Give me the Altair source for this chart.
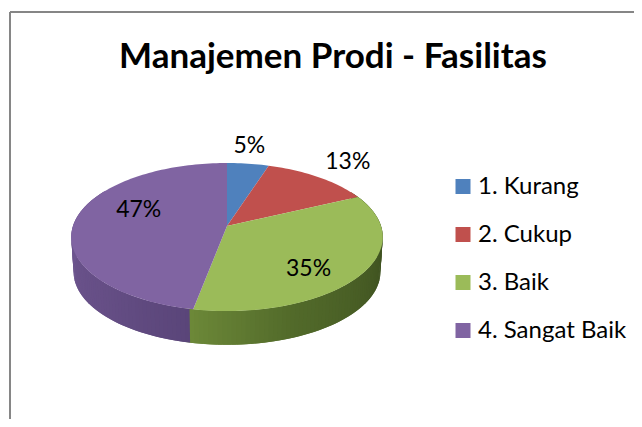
import math
import altair as alt

TITLE = "Manajemen Prodi - Fasilitas"
CATEGORIES = ["1. Kurang", "2. Cukup", "3. Baik", "4. Sangat Baik"]
VALUES = [5, 13, 35, 47]
LABELS = ["5%", "13%", "35%", "47%"]
COLORS = ["#4f81bd", "#c0504d", "#9bbb59", "#8064a2"]

W, H = 626, 411
FONT = "Lato"
# pie layout (plot pixels)
AX, AY = 219, 218
SX, SY, K = 154.0, 72.4, 0.149
DEPTH, SHRINK = 35, 0.985
LABEL_TWEAK = [-1, 0.4, 9, 17.4]
LABEL_R = [1.36, 1.38, 0.73, 0.63]


def project(deg, r=1.0, base=False):
    a = math.radians(deg)
    u, v = r * math.sin(a), r * math.cos(a)
    d = 1 + K * v
    s = SHRINK if base else 1.0
    return [AX + s * SX * u / d, AY - s * SY * v / d + (DEPTH if base else 0)]


def feature(ring, **props):
    return {"type": "Feature", "properties": props,
            "geometry": {"type": "Polygon", "coordinates": [ring + [ring[0]]]}}


def mix(stops, t):
    for (t0, c0), (t1, c1) in zip(stops, stops[1:]):
        if t <= t1:
            f = (t - t0) / (t1 - t0)
            rgb = [int(c0[i:i + 2], 16) * (1 - f) + int(c1[i:i + 2], 16) * f for i in (1, 3, 5)]
            return "#%02x%02x%02x" % tuple(round(x) for x in rgb)
    return stops[-1][1]


total = sum(VALUES)
cuts = [0.0]
for v in VALUES:
    cuts.append(cuts[-1] + 360.0 * v / total)

# top face wedges
tops = []
for i, c in enumerate(CATEGORIES):
    a0, a1 = cuts[i], cuts[i + 1]
    n = max(2, int((a1 - a0) / 1.5))
    ring = [[AX, AY]]
    ring += [project(a0 + (a1 - a0) * j / n) for j in range(n + 1)]
    tops.append(feature(ring, cat=c))

# side wall strips, each overlapping the next so no seams show
GREEN_WALL = [(0.0, "#6c8838"), (0.25, "#526a2a"), (0.7, "#3e5120"), (1.0, "#4a6027")]
PURPLE_WALL = [(0.0, "#5a4579"), (0.3, "#654e85"), (0.75, "#6e5690"), (1.0, "#735a93")]
walls = []
step = 1.5
a = 60.0
while a < 300.0:
    b = a + 2 * step
    if a < cuts[3]:
        t = max(0.0, (cuts[3] - a) / (cuts[3] - 60.0))
        col = mix(GREEN_WALL, t)
    else:
        t = (a - cuts[3]) / (300.0 - cuts[3])
        col = mix(PURPLE_WALL, t)
    walls.append(feature([project(a), project(b), project(b, base=True), project(a, base=True)], color=col))
    a += step

proj = alt.Projection(type="identity", scale=1, translate=[0, 0])

wall = alt.Chart(alt.Data(values=walls)).mark_geoshape(strokeWidth=0, stroke=None).encode(
    fill=alt.Fill("properties.color:N", scale=None, legend=None),
    order=alt.Order("properties.seq:Q"),
).project(**proj.to_dict())

top = alt.Chart(alt.Data(values=tops)).mark_geoshape(strokeWidth=0).encode(
    color=alt.Color(
        "properties.cat:N",
        scale=alt.Scale(domain=CATEGORIES, range=COLORS),
        legend=alt.Legend(
            title=None, orient="none", legendX=443, legendY=166.5,
            symbolType="square", symbolSize=225, symbolStrokeWidth=0,
            labelFont=FONT, labelFontSize=24, labelColor="#000000",
            labelOffset=3, rowPadding=24, labelLimit=250,
        ),
    ),
).project(**proj.to_dict())

label_rows = []
for i, lab in enumerate(LABELS):
    mid = (cuts[i] + cuts[i + 1]) / 2 + LABEL_TWEAK[i]
    px, py = project(mid, LABEL_R[i])
    label_rows.append({"label": lab, "px": px, "py": py})

labels = alt.Chart(alt.Data(values=label_rows)).mark_text(
    font=FONT, fontSize=23, color="#000000", align="center", baseline="middle", dx=-2, dy=1
).encode(
    x=alt.X("px:Q", scale=alt.Scale(domain=[0, W]), axis=None),
    y=alt.Y("py:Q", scale=alt.Scale(domain=[H, 0]), axis=None),
    text="label:N",
)

frame_color = "#868686"
frame_left = alt.Chart(alt.Data(values=[{"a": 0}])).mark_rule(color=frame_color, strokeWidth=2).encode(
    x=alt.value(2), y=alt.value(4), y2=alt.value(H))
frame_top = alt.Chart(alt.Data(values=[{"a": 0}])).mark_rule(color=frame_color, strokeWidth=2).encode(
    x=alt.value(2), x2=alt.value(W), y=alt.value(4))

chart = alt.layer(frame_left, frame_top, wall, top, labels).properties(
    width=W, height=H, padding=0, autosize=alt.AutoSizeParams(type="none"),
    title=alt.TitleParams(TITLE, font=FONT, fontSize=35, fontWeight="bold", color="#000000",
                          anchor="middle", orient="top", offset=0, dx=12, dy=95, baseline="alphabetic"),
).configure_view(stroke=None)

chart.save("out.html", embed_options={"renderer": "svg", "actions": False})
